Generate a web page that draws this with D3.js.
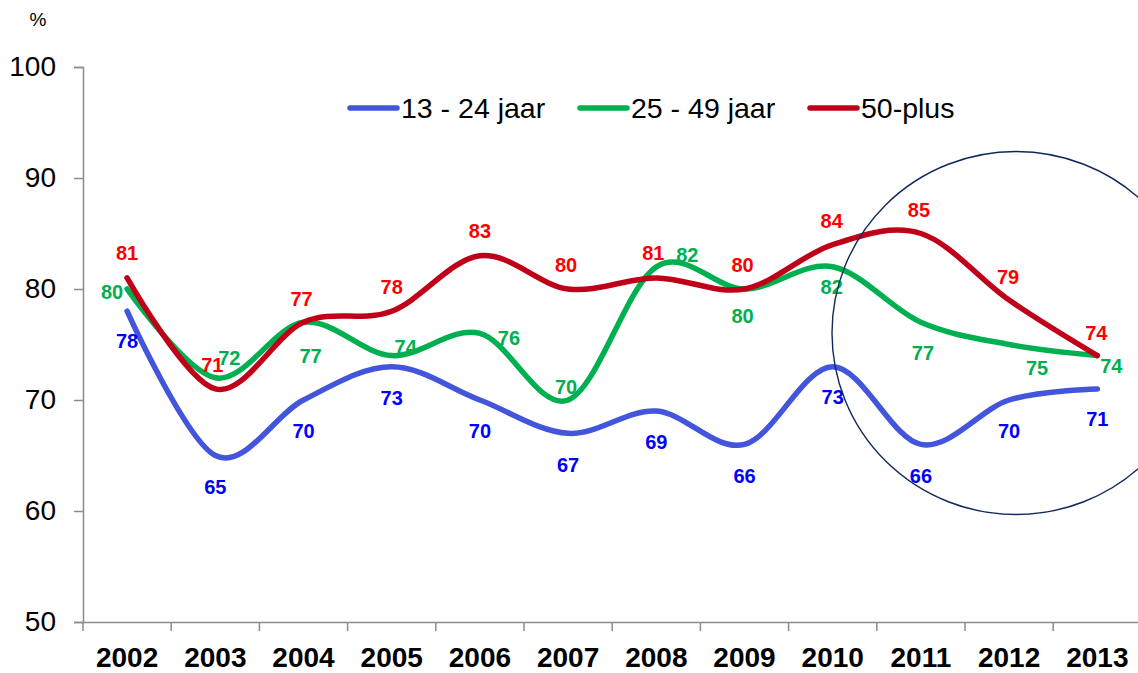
<!DOCTYPE html>
<html><head><meta charset="utf-8">
<script src="https://cdn.jsdelivr.net/npm/d3@7"></script>
<style>
body{margin:0;background:#fff;}
svg{display:block;font-family:"Liberation Sans",Arial,sans-serif;}
</style></head>
<body><svg id="c" width="1138" height="673"></svg>
<script>
const years = ["2002","2003","2004","2005","2006","2007","2008","2009","2010","2011","2012","2013"];
const youth = [78,65,70,73,70,67,69,66,73,66,70,71];      // 13 - 24 jaar
const middle = [80,72,77,74,76,70,82,80,82,77,75,74];     // 25 - 49 jaar
const senior = [81,71,77,78,83,80,81,80,84,85,79,74];     // 50-plus
const seriesNames = ["13 - 24 jaar","25 - 49 jaar","50-plus"];
const yTicks = [50,60,70,80,90,100];

// label placement (offsets from the point, in px)
const youthLabelDx = [0,0,0,0,0,0,0,0,0,0,0,0];
const youthLabelDy = [30,31,31,31,31,31,31,31,30,31,31,30];
const middleLabelDx = [-15,14,7,14,29,-2,31,-2,-1,2,28,14];
const middleLabelDy = [3,-20,33,-9,4,-13,-12,27,20,30,23,10];
const seniorLabelDx = [0,-3,-2,0,0,-2,-3,-2,-1,-2,-1,-1];
const seniorLabelDy = [-25,-24,-24,-24,-25,-24,-25,-24,-24,-24,-23,-23];

const svg = d3.select("#c");
const x = d3.scaleBand().domain(years).range([83, 83 + 12*88.2]);
const y = d3.scaleLinear().domain([50,100]).range([622, 67]);
const cx = d => x(d) + x.bandwidth()/2;

// y axis
const yAx = svg.append("g").attr("transform","translate(83,0)")
  .call(d3.axisLeft(y).tickValues(yTicks).tickSize(9).tickPadding(18));
yAx.select(".domain").attr("stroke","#8c8c8c").attr("stroke-width",1.5);
yAx.selectAll(".tick line").attr("stroke","#8c8c8c").attr("stroke-width",1.5);
yAx.selectAll(".tick text").attr("font-size",28).attr("fill","#000")
  .attr("font-family","'Liberation Sans',Arial,sans-serif");

// x axis
const xAx = svg.append("g").attr("transform","translate(0,622)")
  .call(d3.axisBottom(x).tickSize(0).tickPadding(25));
xAx.select(".domain").attr("stroke","#8c8c8c").attr("stroke-width",1.5);
xAx.selectAll(".tick text").attr("font-size",28).attr("font-weight","bold").attr("fill","#000")
  .attr("font-family","'Liberation Sans',Arial,sans-serif");
const bounds = years.map(d => x(d)).concat([x(years[years.length-1]) + x.bandwidth()]);
svg.append("g").selectAll("line").data(bounds).join("line")
  .attr("x1",d=>d).attr("x2",d=>d).attr("y1",622).attr("y2",631)
  .attr("stroke","#8c8c8c").attr("stroke-width",1.5);

// % label
svg.append("text").attr("x",38).attr("y",26).attr("text-anchor","middle")
  .attr("font-size",19).text("%");

const series = [
  {vals: youth, color:"#4355DB", lab:"#0000FF", dx: youthLabelDx, dy: youthLabelDy},
  {vals: middle, color:"#00B050", lab:"#00B050", dx: middleLabelDx, dy: middleLabelDy},
  {vals: senior, color:"#C00018", lab:"#FF0000", dx: seniorLabelDx, dy: seniorLabelDy}
];

const line = d3.line().x((d,i)=>cx(years[i])).y(d=>y(d)).curve(d3.curveCardinal.tension(0));

series.forEach(s => {
  svg.append("path").datum(s.vals).attr("d", line)
    .attr("fill","none").attr("stroke", s.color).attr("stroke-width",5.5)
    .attr("stroke-linecap","round").attr("stroke-linejoin","round");
});
series.forEach(s => {
  svg.append("g").selectAll("text").data(s.vals).join("text")
    .attr("x",(d,i)=>cx(years[i]) + s.dx[i])
    .attr("y",(d,i)=>y(d) + s.dy[i])
    .attr("dy","0.36em")
    .attr("text-anchor","middle").attr("font-size",20).attr("font-weight","bold")
    .attr("fill", s.lab).text(d=>d);
});

// legend
const legX = [350, 580, 810];
series.forEach((s,i) => {
  const g = svg.append("g");
  g.append("line").attr("x1",legX[i]).attr("x2",legX[i]+47).attr("y1",108).attr("y2",108)
    .attr("stroke",s.color).attr("stroke-width",5.5).attr("stroke-linecap","round");
  g.append("text").attr("x",legX[i]+51).attr("y",108).attr("dy","0.36em")
    .attr("font-size",28.5).attr("fill","#000").text(seriesNames[i]);
});

// highlight circle
svg.append("ellipse").attr("cx",1016).attr("cy",333).attr("rx",184).attr("ry",181.5)
  .attr("fill","none").attr("stroke","#0E2A5C").attr("stroke-width",1.4);
</script></body></html>
